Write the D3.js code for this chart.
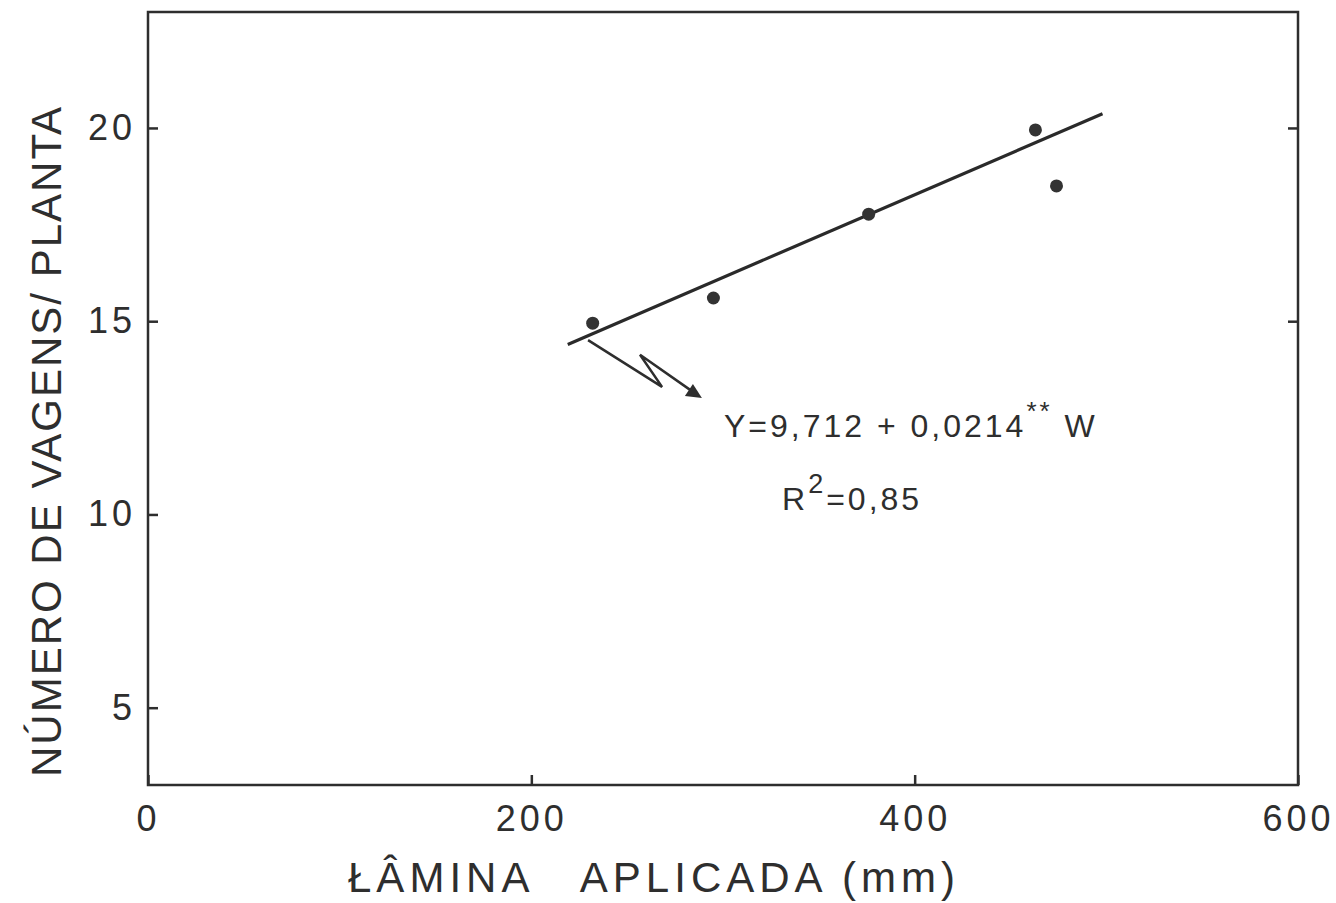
<html>
<head>
    <style>
        body { margin: 0; background: #fff; }
        text { font-family: "Liberation Sans", Arial, sans-serif; fill: #2e2e2e; }
        .axis text { font-size: 36px; letter-spacing: 4px; }
        .axis line { stroke: #2e2e2e; stroke-width: 2.5px; }
    </style>
</head>
<body>
    <script src="https://d3js.org/d3.v7.min.js"></script>
    <script>
        var width = 1336,
            height = 903;

        // data
        var lamina = [232, 295, 376, 463, 474];
        var vagens = [14.95, 15.6, 17.77, 19.95, 18.5];
        var xTicks = [0, 200, 400, 600];
        var yTicks = [5, 10, 15, 20];
        var intercept = 9.712, slope = 0.0214;
        var fitRange = [219, 498];
        // arrow from the first point to the equation (data units)
        var arrowX = [229.6, 268.2, 256.7, 289];
        var arrowY = [14.51, 13.3, 14.13, 13.01];

        var x = d3.scaleLinear().domain([0, 600]).range([148, 1298]);
        var y = d3.scaleLinear().domain([3, 23]).range([785, 12]);

        var svg = d3.select("body")
            .append("svg")
            .attr("width", width)
            .attr("height", height);

        // frame
        svg.append("rect")
            .attr("x", x(0))
            .attr("y", y(23))
            .attr("width", x(600) - x(0))
            .attr("height", y(3) - y(23))
            .attr("fill", "none")
            .attr("stroke", "#2e2e2e")
            .attr("stroke-width", 2.5);

        var xAxis = svg.append("g")
            .attr("class", "axis")
            .attr("transform", "translate(0," + y(3) + ")")
            .call(d3.axisBottom(x).tickValues(xTicks).tickSize(-10).tickPadding(20).tickFormat(d3.format("d")));
        xAxis.select(".domain").remove();

        var yAxis = svg.append("g")
            .attr("class", "axis")
            .attr("transform", "translate(" + x(0) + ",0)")
            .call(d3.axisLeft(y).tickValues(yTicks).tickSize(-10).tickPadding(12).tickFormat(d3.format("d")));
        yAxis.select(".domain").remove();

        var yAxisR = svg.append("g")
            .attr("class", "axis")
            .attr("transform", "translate(" + x(600) + ",0)")
            .call(d3.axisRight(y).tickValues([15, 20]).tickSize(-10).tickFormat(""));
        yAxisR.select(".domain").remove();

        // fitted line
        svg.append("line")
            .attr("x1", x(fitRange[0]))
            .attr("y1", y(intercept + slope * fitRange[0]))
            .attr("x2", x(fitRange[1]))
            .attr("y2", y(intercept + slope * fitRange[1]))
            .attr("stroke", "#2a2a2a")
            .attr("stroke-width", 3.2);

        // points
        svg.selectAll("circle.pt")
            .data(lamina)
            .enter()
            .append("circle")
            .attr("class", "pt")
            .attr("cx", function (d) { return x(d); })
            .attr("cy", function (d, i) { return y(vagens[i]); })
            .attr("r", 6.5)
            .attr("fill", "#333");

        // arrow
        var pts = arrowX.map(function (d, i) { return [x(d), y(arrowY[i])]; });
        svg.append("path")
            .attr("d", d3.line()(pts.slice(0, 3).concat([[pts[3][0] - 10, pts[3][1] - 7]])))
            .attr("fill", "none")
            .attr("stroke", "#2e2e2e")
            .attr("stroke-width", 2.5);
        var tip = pts[3];
        svg.append("path")
            .attr("d", "M" + tip[0] + "," + tip[1] + "L" + (tip[0] - 17) + "," + (tip[1] - 2) + "L" + (tip[0] - 9) + "," + (tip[1] - 14) + "Z")
            .attr("fill", "#2e2e2e");

        // equation
        var eq = svg.append("text")
            .attr("x", x(300.5))
            .attr("y", y(12.0))
            .attr("font-size", 32)
            .style("letter-spacing", "3px")
            .style("white-space", "pre");
        eq.append("tspan").text("Y=9,712 + 0,0214");
        eq.append("tspan").attr("dy", -17).attr("font-size", 26).text("**");
        eq.append("tspan").attr("dy", 17).text(" W");

        var r2 = svg.append("text")
            .attr("x", x(330.8))
            .attr("y", y(10.12))
            .attr("font-size", 32)
            .style("letter-spacing", "3px");
        r2.append("tspan").text("R");
        r2.append("tspan").attr("dy", -17).attr("font-size", 27).text("2");
        r2.append("tspan").attr("dy", 17).text("=0,85");

        // axis titles
        svg.append("text")
            .attr("x", 348)
            .attr("y", 892)
            .attr("font-size", 42)
            .attr("textLength", 607)
            .attr("lengthAdjust", "spacing")
            .style("white-space", "pre")
            .text("ŁÂMINA   APLICADA (mm)");

        svg.append("text")
            .attr("transform", "translate(61,777) rotate(-90)")
            .attr("font-size", 42)
            .attr("textLength", 670)
            .attr("lengthAdjust", "spacing")
            .style("white-space", "pre")
            .text("NÚMERO DE VAGENS/ PLANTA");
    </script>
</body>
</html>
